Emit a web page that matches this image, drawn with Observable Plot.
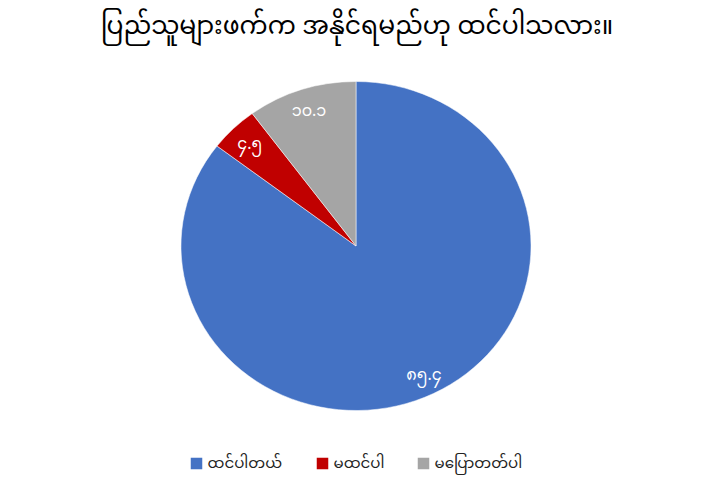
<!DOCTYPE html>
<html><head><meta charset="utf-8">
<script src="https://cdn.jsdelivr.net/npm/d3@7"></script>
<script src="https://cdn.jsdelivr.net/npm/@observablehq/plot@0.6"></script>
<style>body{margin:0;background:#fff}</style>
</head><body><div id="chart"></div>
<script>
const categories = ["ထင်ပါတယ်", "မထင်ပါ", "မပြောတတ်ပါ"];
const values = [85.4, 4.5, 10.1];
const valueLabels = ["၈၅.၄", "၄.၅", "၁၀.၁"];
const colors = ["#4472C4", "#C00000", "#A5A5A5"];
const title = "ပြည်သူများဖက်က အနိုင်ရမည်ဟု ထင်ပါသလား။";

const W = 719, H = 481;
const cx = 356, cy = 246, r = 164.5, sx = 1.064;
const FONT = "'Noto Sans Myanmar', 'Padauk', 'Myanmar Text', 'Myanmar3', sans-serif";

const data = categories.map((c, i) => ({category: c, value: values[i], label: valueLabels[i]}));
const arcs = d3.pie().value(d => d.value).sort(null)(data);
const labelArc = d3.arc().innerRadius(r * 0.74).outerRadius(r);
const labels = arcs.map(a => {
  const [x, y] = labelArc.centroid(a);
  return {x: cx + x * sx, y: cy + y, label: a.data.label};
});

// legend layout
const legendY = 463;
const legendX = [196, 322, 423];
const legend = categories.map((c, i) => ({category: c, x: legendX[i]}));

function pieMark(index, scales) {
  const g = d3.create("svg:g").attr("transform", `translate(${cx},${cy}) scale(${sx},1)`);
  const arc = d3.arc().innerRadius(0).outerRadius(r);
  g.selectAll("path").data(arcs).join("path")
    .attr("d", arc)
    .attr("fill", (d, i) => scales.color ? scales.color(d.data.category) : colors[i])
    .attr("stroke", "#fff").attr("stroke-width", 0.5);
  return g.node();
}

const chart = Plot.plot({
  width: W, height: H,
  margin: 0,
  x: {type: "identity", axis: null},
  y: {type: "identity", axis: null},
  color: {domain: categories, range: colors},
  style: {fontFamily: FONT, background: "#fff"},
  marks: [
    pieMark,
    Plot.text(labels, {x: "x", y: "y", text: "label", fill: "#fff", fontSize: 16}),
    Plot.text([title], {x: W / 2 - 3, y: 25, text: d => d, fontSize: 25, fill: "#000"}),
    Plot.dot(legend, {x: "x", y: legendY, symbol: "square", r: 6.5, fill: "category"}),
    Plot.text(legend, {x: d => d.x + 11, y: legendY, text: "category", textAnchor: "start", fontSize: 15, fill: "#222"})
  ]
});
document.getElementById("chart").appendChild(chart);
</script>
</body></html>
